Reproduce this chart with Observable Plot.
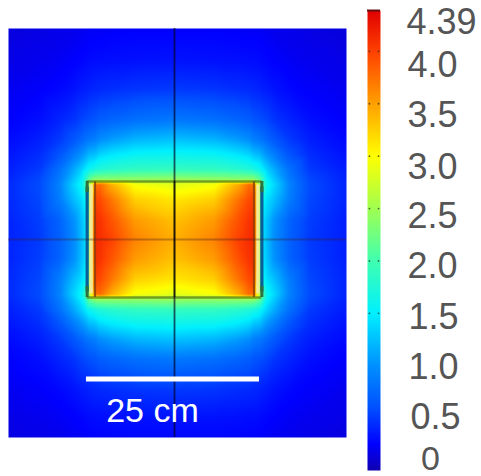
<!DOCTYPE html>
<html><head><meta charset="utf-8">
<script src="https://cdn.jsdelivr.net/npm/d3@7"></script>
<script src="https://cdn.jsdelivr.net/npm/@observablehq/plot@0.6"></script>
<style>html,body{margin:0;padding:0;background:#fff}#c{position:relative;width:481px;height:476px;overflow:hidden}#c svg{position:absolute;top:0;font-family:"Liberation Sans",Arial,sans-serif;background:none}</style>
</head><body><div id="c"></div>
<script>
// Field: one quadrant, in cm from the centre
const offsetsX = [0, 5.7, 9, 10.9, 11.5, 12.4, 12.8, 13.4, 14.5, 16.7, 19.6, 25];
const offsetsY = [0, 2.9, 5.8, 8, 8.7, 10.2, 12.4, 14.5, 17.4, 21.8, 26, 31];
const row0  = [3.42, 3.65, 3.98, 4.12, 4.12, 2.5, 1.45, 1.25, .98, .7, .5, .38];
const row1  = [3.32, 3.52, 3.88, 4.08, 4.08, 2.5, 1.45, 1.28, 1.02, .72, .52, .38];
const row2  = [3.12, 3.25, 3.7, 3.96, 3.96, 2.5, 1.6, 1.42, 1.25, .88, .56, .4];
const row3  = [2.85, 2.95, 3.4, 3.78, 3.7, 2.6, 2.0, 1.6, 1.38, .92, .58, .4];
const row4  = [2.45, 2.42, 2.4, 2.4, 2.4, 2.2, 1.9, 1.55, 1.3, .88, .56, .39];
const row5  = [1.9, 1.88, 1.82, 1.75, 1.7, 1.6, 1.5, 1.35, 1.15, .8, .5, .36];
const row6  = [1.58, 1.55, 1.45, 1.35, 1.25, 1.2, 1.12, 1.02, .88, .62, .44, .32];
const row7  = [1.26, 1.2, 1.08, .98, .9, .85, .82, .75, .65, .5, .38, .28];
const row8  = [.85, .8, .73, .68, .63, .6, .58, .55, .48, .4, .31, .24];
const row9  = [.5, .48, .45, .43, .42, .4, .38, .37, .33, .28, .24, .2];
const row10 = [.33, .32, .31, .3, .3, .29, .28, .27, .25, .22, .2, .17];
const row11 = [.24, .24, .23, .22, .22, .22, .21, .2, .19, .18, .16, .14];
const rows = [row0, row1, row2, row3, row4, row5, row6, row7, row8, row9, row10, row11];

const colorStops = [0, .25, .6, 1, 1.5, 2, 2.5, 3, 3.5, 4, 4.39];
const colorRange = ["#1000b0", "#0000ff", "#0050ff", "#0090ff", "#00f0ff", "#40ffb0", "#a0ff50", "#ffff00", "#ffa000", "#ff4000", "#e00000"];
const tickValues = [4.39, 4, 3.5, 3, 2.5, 2, 1.5, 1, .5, 0];
const tickLabels = ["4.39", "4.0", "3.5", "3.0", "2.5", "2.0", "1.5", "1.0", "0.5", "0"];
const dotValues = [4, 3.5, 3, 2.5, 2, 1.5];

const domainX = [-24.13, 25];
const domainY = [-28.78, 30.67];
const boxOuterX = 12.7, boxInnerX = 11.55, boxY = 8.43, stripX = 12.12;
const barStart = -12.8, barEnd = 12.35, barY = -20.28;

const points = [];
rows.forEach((r, j) => r.forEach((v, i) => {
  for (const sx of offsetsX[i] ? [-1, 1] : [1])
    for (const sy of offsetsY[j] ? [-1, 1] : [1])
      points.push({x: sx * offsetsX[i], y: sy * offsetsY[j], v});
}));

const heat = Plot.plot({
  width: 357, height: 476, marginLeft: 8, marginRight: 11, marginTop: 28, marginBottom: 39,
  x: {domain: domainX, axis: null}, y: {domain: domainY, axis: null},
  color: {type: "linear", domain: colorStops, range: colorRange, clamp: true},
  marks: [
    Plot.raster(points, {x: "x", y: "y", fill: "v", interpolate: "barycentric", pixelSize: 1}),
    Plot.ruleX([-stripX, stripX], {y1: -boxY + .5, y2: boxY - .5, stroke: "#f4e8c0", strokeWidth: 3.5, strokeOpacity: .75}),
    Plot.ruleX([-boxOuterX, boxOuterX], {y1: -boxY + .8, y2: boxY - .8, stroke: "#0a5f98", strokeWidth: 3.2}),
    Plot.ruleX([-boxOuterX, boxOuterX], {y1: boxY - 1.6, y2: boxY, stroke: "#2f7040", strokeWidth: 3}),
    Plot.ruleX([-boxOuterX, boxOuterX], {y1: -boxY, y2: -boxY + 1.6, stroke: "#2f7040", strokeWidth: 3}),
    Plot.ruleX([-boxInnerX, boxInnerX], {y1: -boxY, y2: boxY, stroke: "#8a3c08", strokeWidth: 2.2, strokeOpacity: .8}),
    Plot.ruleY([-boxY, boxY], {x1: -boxOuterX, x2: boxOuterX, stroke: "#4c6a14", strokeWidth: 2.4, strokeOpacity: .65}),
    Plot.ruleY([0], {stroke: "#402020", strokeWidth: 2, strokeOpacity: .33}),
    Plot.ruleX([0], {stroke: "#000020", strokeWidth: 1.8, strokeOpacity: .65}),
    Plot.ruleX([0], {y1: -boxY, y2: boxY, stroke: "#000", strokeWidth: 1.8, strokeOpacity: .6}),
    Plot.ruleY([barY], {x1: barStart, x2: barEnd, stroke: "#fff", strokeWidth: 5}),
    Plot.text(["25 cm"], {x: -3.2, y: barY - 4.7, fill: "#fff", fontSize: 34, textAnchor: "middle", lineAnchor: "middle"})
  ]
});
heat.style.left = "0px";
// the source is a soft, resampled image: soften field and wires, not the overlay
const heatChildren = [...heat.children].filter(n => n.tagName.toLowerCase() !== "style");
heatChildren.slice(0, -2).forEach(n => { n.style.filter = "blur(0.7px)"; });

const labelDx = [61, 52, 52, 52, 52, 52, 53, 53, 55, 50];
const labelDy = [12, 14, 12, 11, 8, 6, 4, 2, -1, -11];
const labelSize = [36, 36, 36, 36, 36, 36, 36, 36, 36, 34];
const bar = Plot.plot({
  width: 124, height: 476, marginLeft: 10, marginRight: 101, marginTop: 10, marginBottom: 6,
  x: {domain: [0, 1], axis: null}, y: {domain: [0, 4.39], axis: null},
  color: {type: "linear", domain: colorStops, range: colorRange},
  marks: [
    Plot.raster({fill: (x, y) => y, pixelSize: 1, x1: 0, x2: 1, y1: 0, y2: 4.39}),
    Plot.ruleY([4.39], {stroke: "#601010", strokeWidth: 2}),
    Plot.dot(dotValues, {x: () => .15, y: d => d, r: .9, fill: "#222", fillOpacity: .7}),
    Plot.dot(dotValues, {x: () => .85, y: d => d, r: .9, fill: "#222", fillOpacity: .7}),
    ...tickLabels.map((t, i) => Plot.text([t], {
      x: () => 1, y: () => tickValues[i], dx: labelDx[i], dy: labelDy[i],
      fill: "#555", fontSize: labelSize[i], textAnchor: "middle", lineAnchor: "middle"
    }))
  ]
});
bar.style.left = "357px";
const c = document.getElementById("c");
c.append(heat, bar);
</script></body></html>
